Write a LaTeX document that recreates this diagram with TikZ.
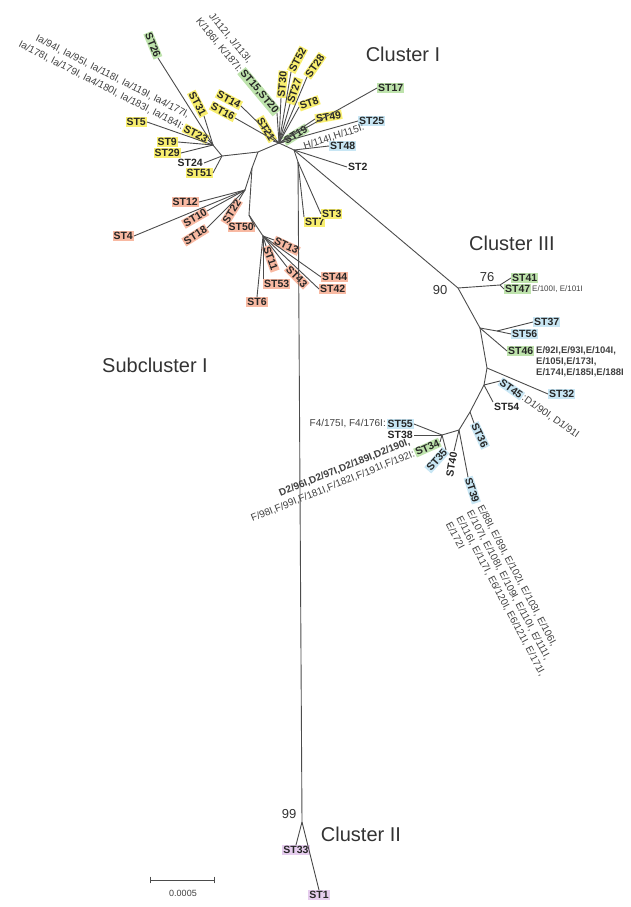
\documentclass[tikz,border=0pt]{standalone}
\usepackage{fontspec}
\setmainfont{Liberation Sans}

\definecolor{stYellow}{RGB}{248,238,110}
\definecolor{stGreen}{RGB}{190,227,172}
\definecolor{stBlue}{RGB}{200,230,244}
\definecolor{stSalmon}{RGB}{248,185,162}
\definecolor{stViolet}{RGB}{230,205,238}

\tikzset{
  br/.style={draw=black!70, line width=0.9pt},
  st/.style={font=\fontsize{10.5}{11}\selectfont\bfseries, inner sep=1pt, text=black!85},
  yel/.style={st, fill=stYellow},
  grn/.style={st, fill=stGreen},
  blu/.style={st, fill=stBlue},
  sal/.style={st, fill=stSalmon},
  vio/.style={st, fill=stViolet},
  strains/.style={font=\fontsize{10}{13}\selectfont, text=black!75, inner sep=0.5pt},
  clus/.style={font=\fontsize{20}{22}\selectfont, text=black!80},
  boot/.style={font=\fontsize{13}{13}\selectfont, text=black!80},
}

\begin{document}
\begin{tikzpicture}[x=1pt,y=-1pt]
  \useasboundingbox (0,0) rectangle (631,907);

  % internal branch points
  \coordinate (h1) at (279,143);
  \coordinate (k)  at (294,150);
  \coordinate (v)  at (298,162);
  \coordinate (m)  at (258,152);
  \coordinate (l)  at (213,145);
  \coordinate (l2) at (222,156);
  \coordinate (r0) at (252,168);
  \coordinate (r1) at (245,190);
  \coordinate (r2) at (249,215);
  \coordinate (r3) at (263,236);
  \coordinate (c3) at (458,288);
  \coordinate (n76) at (500,285);
  \coordinate (b1) at (480,328);
  \coordinate (bn) at (497,331);
  \coordinate (b2) at (487,368);
  \coordinate (b3) at (484,385);
  \coordinate (b4) at (470,412);
  \coordinate (b5) at (459,430);
  \coordinate (b6) at (442,435);
  \coordinate (c2) at (302,822);

  % Cluster I, right fan
  \node[grn, anchor=west] (st17) at (377,88) {ST17};
  \node[yel, anchor=west, rotate=20] (st8) at (299,107) {ST8};
  \node[yel, anchor=west, rotate=10] (st49) at (315,119) {ST49};
  \node[blu, anchor=west] (st25) at (358,121) {ST25};
  \node[strains, rotate=18] (h25) at (334,137) {H/114I,H/115I:};
  \node[grn, anchor=west, rotate=32] (st19) at (284,142) {ST19};
  \node[blu, anchor=west] (st48) at (329,146) {ST48};
  \node[st, anchor=west] (st2) at (347,167) {ST2};
  \node[yel, anchor=west, rotate=62] (st52) at (291,72) {ST52};
  \node[yel, anchor=west, rotate=55] (st28) at (307,77) {ST28};
  \node[yel, anchor=west, rotate=85] (st30) at (281,98) {ST30};
  \node[yel, anchor=west, rotate=72] (st27) at (290,104) {ST27};

  % Cluster I, left fan
  \node[grn, anchor=east, rotate=-50] (st1520) at (277,113) {ST15,ST20};
  \node[strains, anchor=south east, rotate=-50, align=right] (jk1520) at (st1520.south west)
    {J/112I, J/113I,\\K/186I, K/187I:};
  \node[yel, anchor=east, rotate=-60] (st21) at (273,141) {ST21};
  \node[yel, anchor=east, rotate=-28] (st14) at (241,106) {ST14};
  \node[yel, anchor=east, rotate=-28] (st16) at (235,118) {ST16};
  \node[grn, anchor=east, rotate=-68] (st26) at (158,58) {ST26};
  \node[yel, anchor=east, rotate=-62] (st31) at (204,116) {ST31};
  \node[yel, anchor=east, rotate=-27] (st23) at (208,140) {ST23};
  \node[strains, anchor=south east, rotate=-27, align=right] (ia23) at (st23.south west)
    {Ia/94I, Ia/95I, Ia/118I, Ia/119I, Ia4/177I,\\Ia/178I, Ia/179I, Ia4/180I, Ia/183I, Ia/184I:};
  \node[yel, anchor=east] (st5) at (147,122) {ST5};
  \node[yel, anchor=east] (st9) at (178,142) {ST9};
  \node[yel, anchor=east] (st29) at (181,153) {ST29};
  \node[st, anchor=east] (st24) at (204,163) {ST24};
  \node[yel, anchor=east] (st51) at (213,173) {ST51};
  \node[yel, anchor=north west] (st7) at (304,217) {ST7};
  \node[yel, anchor=west] (st3) at (321,214) {ST3};

  % Subcluster I
  \node[sal, anchor=east] (st12) at (199,202) {ST12};
  \node[sal, anchor=east] (st4) at (134,236) {ST4};
  \node[sal, anchor=east, rotate=30] (st10) at (207,211) {ST10};
  \node[sal, anchor=east, rotate=32] (st18) at (207,228) {ST18};
  \node[sal, anchor=east, rotate=58] (st22) at (239,200) {ST22};
  \node[sal, anchor=east] (st50) at (255,227) {ST50};
  \node[sal, anchor=north] (st6) at (257,297) {ST6};
  \node[sal, anchor=north west] (st53) at (263,279) {ST53};
  \node[sal, anchor=west, rotate=-70] (st11) at (266,246) {ST11};
  \node[sal, anchor=west, rotate=-25] (st13) at (274,240) {ST13};
  \node[sal, anchor=west, rotate=-45] (st43) at (287,267) {ST43};
  \node[sal, anchor=west] (st44) at (321,277) {ST44};
  \node[sal, anchor=west] (st42) at (319,289) {ST42};

  % Cluster III
  \node[grn, anchor=west] (st41) at (511,278) {ST41};
  \node[grn, anchor=west] (st47) at (504,289) {ST47};
  \node[strains, anchor=west, font=\fontsize{8}{9}\selectfont] (e47) at (st47.east) {E/100I, E/101I};
  \node[blu, anchor=west] (st37) at (533,322) {ST37};
  \node[blu, anchor=west] (st56) at (511,334) {ST56};
  \node[grn, anchor=west] (st46) at (507,351) {ST46};
  \node[strains, anchor=north west, align=left, font=\fontsize{9.5}{11}\selectfont\bfseries] (e46) at ([xshift=1pt]st46.north east)
    {E/92I,E/93I,E/104I,\\E/105I,E/173I,\\E/174I,E/185I,E/188I};
  \node[blu, anchor=west] (st32) at (548,394) {ST32};
  \node[blu, anchor=west, rotate=-35] (st45) at (500,381) {ST45};
  \node[strains, anchor=west, rotate=-35] (d45) at (st45.east) {:D1/90I, D1/91I};
  \node[st, anchor=north west] (st54) at (493,402) {ST54};
  \node[blu, anchor=west, rotate=-65] (st36) at (474,423) {ST36};
  \node[blu, anchor=west, rotate=-72] (st39) at (468,477) {ST39};
  \node[strains, anchor=north west, rotate=-62, align=left, font=\fontsize{10}{12}\selectfont] (e39) at (484,503)
    {E/88I, E/89I, E/102I, E/103I, E/106I,\\E/107I, E/108I, E/109I, E/110I, E/111I,\\E/116I, E/117I, E6/120I, E6/121I, E/171I,\\E/172I};
  \node[st, anchor=east, rotate=80] (st40) at (454,451) {ST40};
  \node[blu, anchor=east, rotate=48] (st35) at (446,450) {ST35};
  \node[grn, anchor=east, rotate=24] (st34) at (440,442) {ST34};
  \node[strains, anchor=south east, rotate=22, align=right] (df34) at (st34.south west)
    {\bfseries D2/96I,D2/97I,D2/189I,D2/190I,\\F/98I,F/99I,F/181I,F/182I,F/191I,F/192I:};
  \node[blu, anchor=east] (st55) at (414,424) {ST55};
  \node[strains, anchor=east] (f55) at (st55.west) {F4/175I, F4/176I:};
  \node[st, anchor=east] (st38) at (414,435) {ST38};

  % Cluster II
  \node[vio, anchor=north] (st33) at (296,845) {ST33};
  \node[vio, anchor=north] (st1) at (319,890) {ST1};

  % branches
  \foreach \from/\to in {h1/k, k/v, h1/m, m/l2, l2/l, m/r0, r0/r1, r0/r2, r2/r3,
      k/c3, c3/n76, c3/b1, b1/bn, b1/b2, b2/b3, b3/b4, b4/b5, b5/b6, v/c2}
    \draw[br] (\from) -- (\to);

  \foreach \from/\to in {h1/st17.west, h1/st8.west, h1/st49.west, h1/st25.west,
      h1/st19.west, k/st48.west, k/st2.west, h1/st52.west, h1/st28.west,
      h1/st30.west, h1/st27.west, h1/st1520.east, h1/st21.east, h1/st14.east,
      h1/st16.east, l/st26.east, l/st31.east, l/st23.east, l/st5.east,
      l/st9.east, l/st29.east, l2/st24.east, l2/st51.east, v/st7.north west,
      v/st3.west}
    \draw[br] (\from) -- (\to);

  \foreach \from/\to in {r1/st12.east, r1/st4.east, r1/st10.east, r1/st18.east,
      r1/st22.east, r2/st50.east, r3/st6.north, r3/st53.north west,
      r3/st11.west, r3/st13.west, r3/st43.west, r3/st44.west, r3/st42.west}
    \draw[br] (\from) -- (\to);

  \foreach \from/\to in {n76/st41.west, n76/st47.west, bn/st37.west, bn/st56.west,
      b1/st46.west, b2/st32.west, b3/st45.west, b3/st54.north west,
      b4/st36.west, b5/st39.west, b5/st40.east, b6/st35.east, b6/st34.east,
      b6/st55.east, b6/st38.east, c2/st33.north, c2/st1.north}
    \draw[br] (\from) -- (\to);

  % bootstrap values and cluster names
  \node[boot] (bs90) at (440,290) {90};
  \node[boot] (bs76) at (487,277) {76};
  \node[boot] (bs99) at (289,814) {99};
  \node[clus] (clI) at (403,54) {Cluster I};
  \node[clus] (clIII) at (512,243) {Cluster III};
  \node[clus] (subI) at (155,365) {Subcluster I};
  \node[clus] (clII) at (361,834) {Cluster II};

  % scale bar
  \coordinate (sb1) at (150,880);
  \coordinate (sb2) at (215,880);
  \draw[br, line width=0.7pt, |-|] (sb1) -- (sb2);
  \node[strains, font=\fontsize{9}{10}\selectfont] (sbl) at (183,893) {0.0005};
\end{tikzpicture}
\end{document}
